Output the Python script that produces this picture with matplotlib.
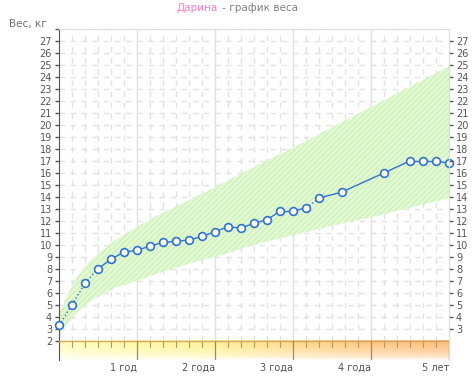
import numpy as np
import matplotlib
matplotlib.use("Agg")
import matplotlib.pyplot as plt

plt.rcParams['font.family'] = ['DejaVu Sans']
plt.rcParams['hatch.linewidth'] = 0.6

# child measurements: age in months, weight in kg
months = [0, 2, 4, 6, 8, 10, 12, 14, 16, 18, 20, 22, 24, 26, 28, 30, 32, 34,
          36, 38, 40, 43.5, 50, 54, 56, 58, 60]
weights = [3.3, 5.0, 6.8, 8.0, 8.8, 9.4, 9.55, 9.9, 10.2, 10.3, 10.4, 10.7, 11.1,
           11.5, 11.4, 11.8, 12.1, 12.8, 12.8, 13.1, 13.9, 14.4, 16.0, 17.0,
           17.0, 17.0, 16.8]
# segments drawn dotted (index of segment start)
dotted = [0, 1, 2, 19]

# normal range band
band_months = [0, 1, 2, 3, 4, 6, 9, 12, 15, 18, 21, 24, 30, 36, 42, 48, 54, 60]
band_low = [2.4, 3.2, 3.9, 4.5, 5.0, 5.7, 6.5, 7.0, 7.6, 8.1, 8.6, 9.0, 10.0,
            10.8, 11.6, 12.3, 13.1, 13.9]
band_high = [4.2, 5.5, 6.6, 7.5, 8.2, 9.3, 10.5, 11.5, 12.4, 13.2, 14.0, 14.8,
             16.5, 18.1, 19.8, 21.5, 23.2, 24.9]

year_ticks = [1, 2, 3, 4, 5]
year_labels = ['1 год', '2 года', '3 года', '4 года', '5 лет']
kg_ticks = list(range(2, 28))

fig = plt.figure(figsize=(4.76, 3.82), dpi=100)
ax = fig.add_axes([59 / 476, 22 / 382, 390 / 476, 331 / 382])
ax.set_xlim(0, 5)
ax.set_ylim(0.4, 28)

# grid
grid_c = '#e2e2e2'
for k in range(2, 29):
    ax.axhline(k, color=grid_c, lw=1, ls=(0, (4, 4)), zorder=1)
for m in range(2, 60, 2):
    if m % 12:
        ax.plot([m / 12, m / 12], [2, 28], color=grid_c, lw=1, ls=(0, (4, 4)), zorder=1)
for y in year_ticks[:-1]:
    ax.plot([y, y], [2, 28], color='#e0e0e0', lw=1, zorder=1)

# green band
bx = np.array(band_months) / 12
ax.fill_between(bx, band_low, band_high, facecolor='#e2fad3', edgecolor='#c6ecaa',
                hatch='//////', lw=0, zorder=2)

# bottom gradient strip
xs = np.linspace(0, 5, 300)
stops_x = [0, 1.0, 2.0, 3.0, 4.0, 5]
stops_c = np.array([[255, 252, 190], [255, 248, 160], [255, 240, 140],
                    [255, 215, 130], [255, 195, 120], [255, 185, 115]]) / 255
row = np.stack([np.interp(xs, stops_x, stops_c[:, i]) for i in range(3)], axis=1)
fade = np.linspace(1, 0, 40)[:, None, None] ** 0.55
img = row[None, :, :] * fade + (1 - fade)
ax.imshow(img, extent=(0, 5, 0.4, 2), aspect='auto', zorder=2, origin='upper')
ax.plot([0, 5], [2, 2], color='#d0aa68', lw=1, zorder=3)
for m in range(2, 60, 2):
    if m % 12:
        ax.plot([m / 12, m / 12], [1.5, 2], color='#b89a68', lw=0.8, zorder=3)
for y in year_ticks:
    ax.plot([y, y], [0.4, 2], color='#9a8a78', lw=0.9, zorder=3)

# weight line
mx = np.array(months) / 12
for i in range(len(mx) - 1):
    ax.plot(mx[i:i + 2], weights[i:i + 2], color='#2f72d6', lw=1,
            ls=':' if i in dotted else '-', zorder=4)
ax.plot(mx, weights, ls='none', marker='o', ms=5.6, mfc='white', mec='#2f72d6',
        mew=1.2, zorder=5, clip_on=False)

# axes styling
for s in ['top', 'right']:
    ax.spines[s].set_color('#dddddd')
ax.spines['bottom'].set_visible(False)
ax.spines['left'].set_color('#555555')
ax.set_yticks(kg_ticks + [28])
ax.set_yticklabels([str(k) for k in kg_ticks] + [''])
ax.tick_params(axis='y', direction='out', length=3, width=1, color='#555555',
               labelsize=7, labelcolor='#555555', pad=2)
ax.set_xticks(year_ticks)
ax.set_xticklabels(year_labels)
ax.tick_params(axis='x', length=0, labelsize=7, labelcolor='#555555', pad=2)
for lbl in ax.get_xticklabels():
    lbl.set_horizontalalignment('right')

ax2 = ax.twinx()
ax2.set_ylim(0.4, 28)
ax2.set_yticks(kg_ticks[1:])
ax2.tick_params(axis='y', direction='out', length=3, width=1, color='#555555',
                labelsize=7, labelcolor='#555555', pad=2)
for s in ['top', 'left', 'bottom']:
    ax2.spines[s].set_visible(False)
ax2.spines['right'].set_color('#dddddd')

fig.text(218 / 476, 1 - 8 / 382, 'Дарина', color='#ff77cc', fontsize=7.5,
         ha='right', va='center')
fig.text(219 / 476, 1 - 8 / 382, ' - график веса', color='#808080', fontsize=7.5,
         ha='left', va='center')
fig.text(9 / 476, 1 - 24 / 382, 'Вес, кг', color='#707070', fontsize=7.5,
         ha='left', va='center')

fig.savefig('out.png', dpi=100)
